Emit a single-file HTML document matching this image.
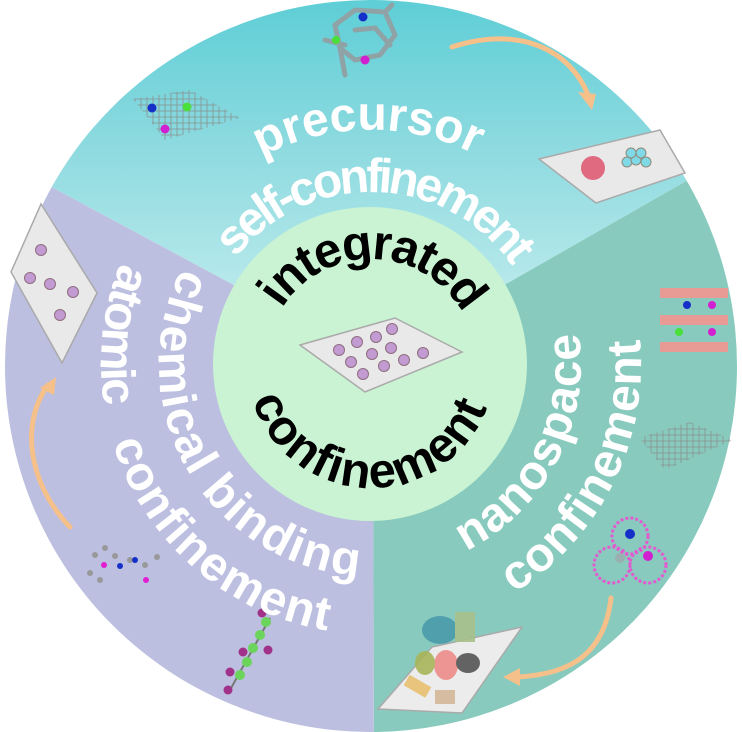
<!DOCTYPE html>
<html><head><meta charset="utf-8"><style>
html,body{margin:0;padding:0;background:#fff;overflow:hidden;width:742px;height:732px;}
svg{display:block;}
text{font-family:"Liberation Sans",Arial,sans-serif;font-weight:bold;}
</style></head><body>
<svg width="742" height="732" viewBox="0 0 742 732" xmlns="http://www.w3.org/2000/svg">
<defs>
<clipPath id="cc"><circle cx="371" cy="366" r="366"/></clipPath>
<linearGradient id="tg" x1="0" y1="0" x2="0" y2="1" gradientUnits="objectBoundingBox">
<stop offset="0" stop-color="#3ec5cf"/><stop offset="0.55" stop-color="#8fdbe0"/><stop offset="1" stop-color="#cdf0f1"/></linearGradient>
<pattern id="hex" width="6" height="6" patternUnits="userSpaceOnUse"><path d="M0 3h6M3 0v6" stroke="#8a8a8a" stroke-width="0.8"/></pattern>
<path id="p1" d="M261.4,156.8 A234,234 0 0 1 477.3,155.5"/>
<path id="p2" d="M235.5,258.1 A172,172 0 0 1 510.1,262.9"/>
<path id="p3" d="M282,308.4 A105,105 0 0 1 461.9,311.5"/>
<path id="p4" d="M252.4,400.2 A124,124 0 0 0 488.9,402.3"/>
<path id="p5" d="M120.7,262.8 A270,270 0 0 0 104.3,406.2"/>
<path id="p6" d="M112.8,442.9 A270,270 0 0 0 333.4,631.4"/>
<path id="p7" d="M182.1,267.8 A212,212 0 0 0 363.6,575.9"/>
<path id="p8" d="M466.3,551.1 A210,210 0 0 0 577.8,327.5"/>
<path id="p9" d="M514.1,593 A270,270 0 0 0 639.5,335.7"/>
</defs>
<g clip-path="url(#cc)">
<polygon points="373,360 -281,8 -281,-100 1003,-100 1003,0" fill="url(#tg)"/>
<polygon points="373,360 1003,0 1003,800 374,800" fill="#88cbbe"/>
<polygon points="373,360 374,800 -300,800 -281,8" fill="#bcbfe0"/>
</g>
<circle cx="370" cy="364" r="157" fill="#c9f3d3"/>

<polygon points="300,345 395,318 462,352 365,392" fill="#e9e9e9" stroke="#aaa" stroke-width="1.5"/>
<g fill="#c29bd2" stroke="#8f6d7f" stroke-width="1">
<circle cx="339" cy="350" r="5.5"/><circle cx="357" cy="342" r="5.5"/><circle cx="376" cy="337" r="5.5"/><circle cx="392" cy="329" r="5.5"/>
<circle cx="351" cy="362" r="5.5"/><circle cx="372" cy="354" r="5.5"/><circle cx="391" cy="348" r="5.5"/><circle cx="423" cy="353" r="5.5"/>
<circle cx="363" cy="374" r="5.5"/><circle cx="384" cy="366" r="5.5"/><circle cx="404" cy="360" r="5.5"/>
</g>

<polygon points="41,204 97,293 62,363 11,272" fill="#e9e9e9" stroke="#aaa" stroke-width="1.5"/>
<g fill="#c29bd2" stroke="#8f6d7f" stroke-width="1">
<circle cx="41" cy="250" r="5.5"/><circle cx="30" cy="278" r="5.5"/><circle cx="50" cy="284" r="5.5"/><circle cx="73" cy="292" r="5.5"/><circle cx="60" cy="315" r="5.5"/>
</g>

<polygon points="539,159 660,130 685,173 596,203" fill="#e9e9e9" stroke="#aaa" stroke-width="1.5"/>
<circle cx="593" cy="168" r="12" fill="#e06a80"/>
<g fill="#7fd9e6" stroke="#8f8a7a" stroke-width="1"><circle cx="627" cy="162" r="5"/><circle cx="636" cy="160" r="5"/><circle cx="631" cy="153" r="5"/><circle cx="641" cy="153" r="5"/><circle cx="646" cy="162" r="5"/></g>

<polygon points="133,99 190,90 240,118 165,140" fill="url(#hex)" opacity="0.9"/>
<circle cx="152" cy="108" r="4.5" fill="#1530c8"/><circle cx="187" cy="107" r="4.5" fill="#4ae03a"/><circle cx="165" cy="129" r="4.5" fill="#d020d0"/>
<g stroke="#8fa3a6" stroke-width="5" fill="none" stroke-linecap="round">
<path d="M335,25 L355,10 L385,12 L395,35 L380,55 L355,60 L340,48 Z"/><path d="M355,30 L375,28 L390,45 M345,45 L325,40 M385,12 L392,5 M340,48 L345,75"/>
</g>
<circle cx="363" cy="17" r="4.5" fill="#1530c8"/><circle cx="336" cy="40" r="4" fill="#4ae03a"/><circle cx="365" cy="60" r="4.5" fill="#d020d0"/>

<g fill="#e89a95"><rect x="660" y="288" width="68" height="10"/><rect x="660" y="315" width="68" height="10"/><rect x="660" y="342" width="68" height="10"/></g>
<circle cx="687" cy="305" r="4" fill="#1530c8"/><circle cx="712" cy="305" r="4" fill="#d020d0"/><circle cx="679" cy="332" r="4" fill="#4ae03a"/><circle cx="712" cy="332" r="4" fill="#d020d0"/>
<polygon points="639,438 690,422 733,440 665,470" fill="url(#hex)" opacity="0.9"/>
<g fill="none" stroke="#e25ad0" stroke-width="3" stroke-dasharray="3 2"><circle cx="630" cy="536" r="18"/><circle cx="612" cy="565" r="18"/><circle cx="648" cy="565" r="18"/></g>
<circle cx="630" cy="534" r="5" fill="#1530c8"/><circle cx="620" cy="558" r="5" fill="#9ab0b0"/><circle cx="648" cy="556" r="5" fill="#d020d0"/>

<polygon points="378,709 432,647 522,627 462,713" fill="#ececec" stroke="#aaa" stroke-width="1.5"/>
<g opacity="0.9"><ellipse cx="440" cy="630" rx="18" ry="14" fill="#4a9bab"/><rect x="455" y="612" width="20" height="30" fill="#a8c08a"/><ellipse cx="446" cy="665" rx="12" ry="15" fill="#ec8c8a"/><ellipse cx="425" cy="663" rx="10" ry="12" fill="#a8b55a"/><ellipse cx="468" cy="663" rx="12" ry="10" fill="#555"/><rect x="405" y="680" width="25" height="12" fill="#e8c070" transform="rotate(30 417 686)"/><rect x="435" y="690" width="20" height="14" fill="#d4b89a"/></g>

<g fill="#999"><circle cx="95" cy="555" r="3"/><circle cx="105" cy="548" r="3"/><circle cx="115" cy="556" r="3"/><circle cx="130" cy="560" r="3"/><circle cx="145" cy="565" r="3"/><circle cx="157" cy="557" r="3"/><circle cx="90" cy="573" r="3"/><circle cx="100" cy="580" r="3"/></g>
<circle cx="120" cy="566" r="3" fill="#1530c8"/><circle cx="135" cy="560" r="3" fill="#1530c8"/><circle cx="104" cy="565" r="3" fill="#e020d0"/><circle cx="146" cy="580" r="3" fill="#e020d0"/>
<g stroke="#777" stroke-width="2"><line x1="230" y1="690" x2="270" y2="618"/></g>
<g fill="#6bd45a"><circle cx="240" cy="675" r="5"/><circle cx="247" cy="662" r="5"/><circle cx="253" cy="648" r="5"/><circle cx="260" cy="635" r="5"/><circle cx="266" cy="622" r="5"/></g>
<g fill="#a0328a"><circle cx="228" cy="690" r="4.5"/><circle cx="230" cy="672" r="4.5"/><circle cx="243" cy="652" r="4.5"/><circle cx="268" cy="650" r="4.5"/><circle cx="262" cy="613" r="4.5"/></g>

<g fill="none" stroke="#f5c08a" stroke-width="5" stroke-linecap="round">
<path d="M452,47 C520,25 570,50 588,95"/>
<path d="M70,527 C25,480 22,420 48,385"/>
<path d="M611,598 C605,650 575,675 515,677"/>
</g>
<g fill="#f5c08a">
<polygon points="578,92 596,94 592,110"/>
<polygon points="40,388 56,377 54,395"/>
<polygon points="520,668 520,686 503,677"/>
</g>

<g fill="#fff" font-size="48">
<text><textPath href="#p1" textLength="222" lengthAdjust="spacing">precursor</textPath></text>
<text><textPath href="#p2" textLength="322" lengthAdjust="spacing">self-confinement</textPath></text>
<text><textPath href="#p5" textLength="146" lengthAdjust="spacing">atomic</textPath></text>
<text><textPath href="#p6" textLength="300" lengthAdjust="spacing">confinement</textPath></text>
<text><textPath href="#p7" textLength="420" lengthAdjust="spacing">chemical binding</textPath></text>
<text><textPath href="#p8" textLength="262" lengthAdjust="spacing">nanospace</textPath></text>
<text><textPath href="#p9" textLength="298" lengthAdjust="spacing">confinement</textPath></text>
</g>
<g fill="#000" font-size="49">
<text><textPath href="#p3" textLength="218" lengthAdjust="spacing">integrated</textPath></text>
<text><textPath href="#p4" textLength="308" lengthAdjust="spacing">confinement</textPath></text>
</g>
</svg>
</body></html>
